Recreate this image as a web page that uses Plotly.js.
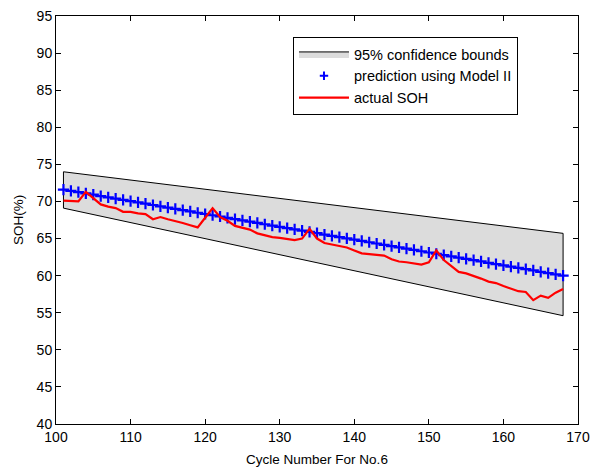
<!DOCTYPE html>
<html>
<head>
<meta charset="utf-8">
<script src="https://cdn.plot.ly/plotly-3.0.1.min.js"></script>
<style>html,body{margin:0;padding:0;background:#fff;}#chart{width:592px;height:474px;}</style>
</head>
<body>
<div id="chart"></div>
<script>
// Cycle numbers
const cycles = [101,102,103,104,105,106,107,108,109,110,111,112,113,114,115,116,117,118,119,120,
  121,122,123,124,125,126,127,128,129,130,131,132,133,134,135,136,137,138,139,140,
  141,142,143,144,145,146,147,148,149,150,151,152,153,154,155,156,157,158,159,160,
  161,162,163,164,165,166,167,168];

// Prediction using Model II
const predictedSOH = [71.60,71.43,71.25,71.08,70.91,70.73,70.56,70.39,70.22,70.04,69.87,69.70,69.52,69.35,69.18,69.00,68.83,68.66,68.48,68.31,
  68.14,67.97,67.79,67.62,67.45,67.27,67.10,66.93,66.75,66.58,66.41,66.23,66.06,65.89,65.72,65.54,65.37,65.20,65.02,64.85,
  64.68,64.50,64.33,64.16,63.98,63.81,63.64,63.47,63.29,63.12,62.95,62.77,62.60,62.43,62.25,62.08,61.91,61.73,61.56,61.39,
  61.22,61.04,60.87,60.70,60.52,60.35,60.18,60.00];

// Actual SOH
const actualSOH = [70.1,70.0,70.0,71.3,70.4,69.6,69.3,69.1,68.6,68.6,68.4,68.3,67.6,67.9,67.6,67.4,67.1,66.8,66.5,67.8,
  69.1,67.9,67.4,66.7,66.5,66.2,65.7,65.4,65.2,65.1,65.0,64.8,65.0,66.3,65.0,64.4,64.2,64.0,63.8,63.4,
  63.0,62.9,62.8,62.7,62.2,61.9,61.8,61.6,61.5,61.8,63.4,62.1,61.3,60.5,60.3,60.0,59.6,59.2,59.0,58.6,
  58.3,57.9,57.8,56.7,57.3,57.0,57.7,58.2];

// 95% confidence bounds
const boundCycles = [101,105,110,115,120,125,130,135,140,145,150,155,160,165,168];
const upperBound = [74.00,73.50,72.89,72.27,71.65,71.03,70.41,69.79,69.17,68.55,67.93,67.31,66.69,66.07,65.70];
const lowerBound = [69.10,68.23,67.15,66.07,64.99,63.91,62.82,61.74,60.66,59.58,58.50,57.41,56.33,55.25,54.60];

const xTicks = [100,110,120,130,140,150,160,170];
const yTicks = [40,45,50,55,60,65,70,75,80,85,90,95];

// closed polygon for the band
const bandX = boundCycles.concat(boundCycles.slice().reverse(), [boundCycles[0]]);
const bandY = upperBound.concat(lowerBound.slice().reverse(), [upperBound[0]]);

const font = 'Liberation Sans, Arial, Helvetica, sans-serif';

const traces = [
  {
    x: bandX, y: bandY, type: 'scatter', mode: 'lines',
    fill: 'toself', fillcolor: '#dcdcdc',
    line: {color: '#000000', width: 1},
    name: '95% confidence bounds', hoverinfo: 'skip'
  },
  {
    x: cycles, y: predictedSOH, type: 'scatter', mode: 'markers',
    marker: {symbol: 'cross-thin', size: 8, color: '#0000ff', line: {color: '#0000ff', width: 2.2}},
    name: 'prediction using Model II', showlegend: false
  },
  {
    // legend entry only (smaller marker as in the reference legend)
    x: [null], y: [null], type: 'scatter', mode: 'markers',
    marker: {symbol: 'cross-thin', size: 6, color: '#0000ff', line: {color: '#0000ff', width: 2}},
    name: 'prediction using Model II'
  },
  {
    x: cycles, y: actualSOH, type: 'scatter', mode: 'lines',
    line: {color: '#ff0000', width: 2.2},
    name: 'actual SOH'
  }
];

const axisCommon = {
  showgrid: false, zeroline: false,
  showline: true, linecolor: '#000000', linewidth: 1, mirror: 'ticks',
  ticks: 'inside', ticklen: 5, tickwidth: 1, tickcolor: '#000000',
  tickfont: {family: font, size: 14, color: '#000000'}
};

const layout = {
  width: 592, height: 474,
  margin: {l: 56, r: 14, t: 16, b: 50},
  paper_bgcolor: '#ffffff', plot_bgcolor: '#ffffff',
  showlegend: true,
  legend: {
    x: 0.454, y: 0.9485, xanchor: 'left', yanchor: 'top',
    bgcolor: '#ffffff', bordercolor: '#000000', borderwidth: 1,
    font: {family: font, size: 14.5, color: '#000000'},
    itemwidth: 50, tracegroupgap: 0
  },
  xaxis: Object.assign({}, axisCommon, {
    range: [100, 170], tickvals: xTicks, ticktext: xTicks.map(String),
    title: {text: 'Cycle Number For No.6', font: {family: font, size: 13.5, color: '#000000'}, standoff: 10}
  }),
  yaxis: Object.assign({}, axisCommon, {
    range: [40, 95], tickvals: yTicks, ticktext: yTicks.map(String),
    title: {text: 'SOH(%)', font: {family: font, size: 13.5, color: '#000000'}, standoff: 9}
  })
};

Plotly.newPlot('chart', traces, layout, {displayModeBar: false, staticPlot: true});
</script>
</body>
</html>
